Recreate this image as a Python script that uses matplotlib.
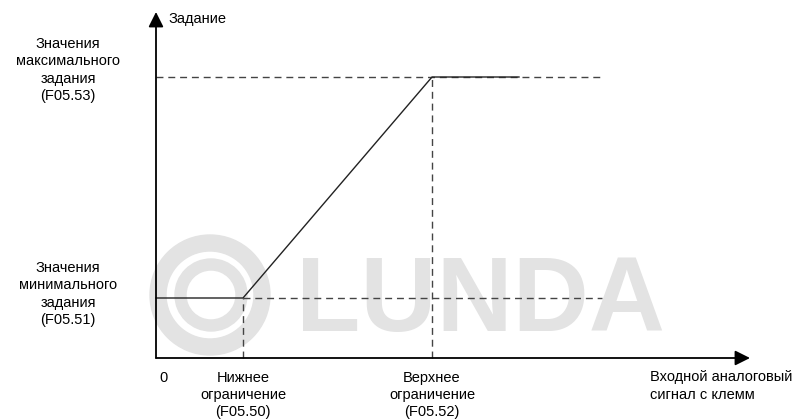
import matplotlib.pyplot as plt
from matplotlib.patches import Wedge

plt.rcParams['font.family'] = ['Liberation Sans', 'DejaVu Sans']

# characteristic curve (x: input signal, y: setpoint), units ~ pixels from origin
curve_x = [0, 87, 276, 363]
curve_y = [60, 60, 281, 281]

x_low, x_high = 87, 276
y_min, y_max = 60, 281
dash_end = 446
x_axis_end = 594
y_axis_end = 346

y_labels = ["Значения\nмаксимального\nзадания\n(F05.53)",
            "Значения\nминимального\nзадания\n(F05.51)"]
x_labels = ["Нижнее\nограничение\n(F05.50)",
            "Верхнее\nограничение\n(F05.52)"]

fig = plt.figure(figsize=(8.05, 4.19), dpi=100)
ax = fig.add_axes([0, 0, 1, 1])
ax.set_xlim(-156, 649)
ax.set_ylim(-61, 358)
ax.axis('off')

# watermark
wm = '#e3e3e3'
ax.add_patch(Wedge((54, 63), 60, 0, 360, width=16, color=wm, zorder=0))
ax.add_patch(Wedge((55, 63), 36, 0, 360, width=11, color=wm, zorder=0))
ax.text(140, 54, "LUNDA", fontsize=76, fontweight='bold', color=wm,
        ha='left', va='center', zorder=0)

# axes with arrows
arrow = dict(arrowstyle='-|>,head_length=0.9,head_width=0.45',
             color='black', lw=1.3, shrinkA=0, shrinkB=0)
ax.annotate('', xy=(x_axis_end, 0), xytext=(0, 0), arrowprops=arrow)
ax.annotate('', xy=(0, y_axis_end), xytext=(0, 0), arrowprops=arrow)

# dashed guides
dash = dict(color='#444444', lw=1.0, ls=(0, (5, 3.5)))
ax.plot([0, dash_end], [y_max, y_max], **dash)
ax.plot([x_low, dash_end], [y_min, y_min], **dash)
ax.plot([x_low, x_low], [0, y_min], **dash)
ax.plot([x_high, x_high], [0, y_max], **dash)

# curve
ax.plot(curve_x, curve_y, color='#222222', lw=1.0)

fs = 10.5
ls = 1.3
ax.text(12, 339, "Задание", fontsize=fs, ha='left', va='center')
ax.text(-88, 288, y_labels[0], fontsize=fs, ha='center', va='center', linespacing=ls)
ax.text(-88, 64, y_labels[1], fontsize=fs, ha='center', va='center', linespacing=ls)
ax.text(7, -20, "0", fontsize=fs, ha='center', va='center')
ax.text(x_low, -37, x_labels[0], fontsize=fs, ha='center', va='center', linespacing=ls)
ax.text(x_high, -37, x_labels[1], fontsize=fs, ha='center', va='center', linespacing=ls)
ax.text(494, -28, "Входной аналоговый\nсигнал с клемм", fontsize=fs,
        ha='left', va='center', linespacing=ls)

fig.savefig('out.png', dpi=100)
